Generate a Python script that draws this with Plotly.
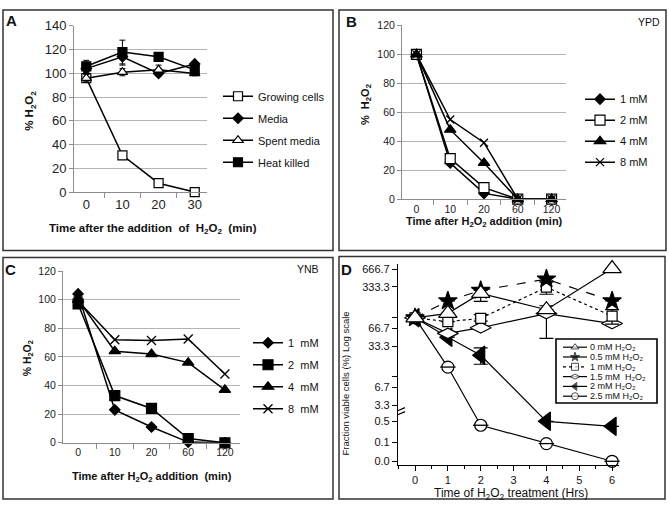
import math
import plotly.graph_objects as go

W, H = 669, 510
FONT = "Liberation Sans, Arial, sans-serif"

# ---------------- data ----------------
# Panel A
a_times = ["0", "10", "20", "30"]
a_growing = [96, 31, 7.5, 0]
a_media = [104, 114, 100, 108]
a_spent = [96, 101, 103, 100]
a_heat = [106, 118, 114, 103]
a_growing_err = [2, 2, 1, 0]
a_media_err = [3, 7, 2, 2]
a_spent_err = [3, 3, 4, 2]
a_heat_err = [5, 10, 2, 2]

# Panel B (YPD)
b_times = ["0", "10", "20", "60", "120"]
b_1mM = [100, 25, 4, 0, 0]
b_2mM = [100, 28, 8, 0, 0]
b_4mM = [100, 48, 25, 0, 0]
b_8mM = [100, 55, 39, 0, 0]

# Panel C (YNB)
c_times = ["0", "10", "20", "60", "120"]
c_1mM = [104, 23, 11, 0.5, 0]
c_2mM = [97, 33, 24, 3, 0]
c_4mM = [100, 64, 62, 56, 37]
c_8mM = [99, 72, 71.5, 72.5, 48]

# Panel D (fraction viable cells, %)
d_hours = [0, 1, 2, 4, 6]
d_0mM = [100, 119, 258, 137, 680]
d_05mM = [100, 193, 290, 451, 193]
d_1mM = [100, 86, 98, 329, 107]
d_15mM = [100, 54.5, 68, 118, 80]
d_2mM = [100, 47, 23.3, 0.5, 0.34]
d_25mM = [100, 14.7, 0.37, 0.09, 0.023]
# error bounds (low, high) or None
d_0mM_bounds = [None, None, (190, 310), None, None]
d_05mM_bounds = [None, None, None, (420, 490), None]
d_1mM_bounds = [None, None, (88, 113), (250, 400), (78, 137)]
d_15mM_bounds = [None, None, None, (45, 160), None]
d_2mM_bounds = [None, None, (16.4, 31), None, None]
d_yticks = [666.7, 333.3, 100, 66.7, 33.3, 10, 6.7, 3.3, 0.5, 0.1, 0.023]
d_yticklabels = ["666.7", "333.3", "", "66.7", "33.3", "", "6.7", "3.3", "0.5", "0.1", "0.0"]

# ---------------- broken log scale for panel D ----------------
LOW_ANCHOR = 0.25      # axis position of 0.5 in the lower segment
LOW_SCALE = 0.505      # compression of the lower segment
BREAK_POS = 0.398


def d_scale(v):
    if v >= 1:
        return math.log10(v)
    return LOW_ANCHOR + (math.log10(v) - math.log10(0.5)) * LOW_SCALE


def px(x):
    return x / W


def py(y):
    return 1 - y / H


fig = go.Figure()


def add_series(x, y, name, symbol, size, color, xa, ya, legend, group,
               dash="solid", width=1.5, err=None, mline=1.2):
    kw = {}
    if err is not None:
        kw["error_y"] = dict(type="data", array=err, visible=True, color="black",
                             thickness=1, width=3)
    fig.add_trace(go.Scatter(
        x=x, y=y, name=name, mode="lines+markers",
        line=dict(color="black", width=width, dash=dash),
        marker=dict(symbol=symbol, size=size, color=color,
                    line=dict(color="black", width=mline)),
        xaxis=xa, yaxis=ya, legend=legend, legendgroup=group,
        cliponaxis=False, **kw))


# Panel A
add_series(a_times, a_growing, "Growing cells", "square", 9, "white", "x", "y", "legend", "a1", err=a_growing_err)
add_series(a_times, a_media, "Media", "diamond", 8, "black", "x", "y", "legend", "a2", err=a_media_err)
add_series(a_times, a_spent, "Spent media", "triangle-up", 9, "white", "x", "y", "legend", "a3", err=a_spent_err)
add_series(a_times, a_heat, "Heat killed", "square", 9, "black", "x", "y", "legend", "a4", err=a_heat_err)

# Panel B
add_series(b_times, b_1mM, "1 mM", "diamond", 8, "black", "x2", "y2", "legend2", "b1")
add_series(b_times, b_2mM, "2 mM", "square", 10, "white", "x2", "y2", "legend2", "b2")
add_series(b_times, b_4mM, "4 mM", "triangle-up", 10, "black", "x2", "y2", "legend2", "b3")
add_series(b_times, b_8mM, "8 mM", "x-thin", 8, "black", "x2", "y2", "legend2", "b4", mline=1.3)

# Panel C
add_series(c_times, c_1mM, "1  mM", "diamond", 8, "black", "x3", "y3", "legend3", "c1")
add_series(c_times, c_2mM, "2  mM", "square", 10, "black", "x3", "y3", "legend3", "c2")
add_series(c_times, c_4mM, "4  mM", "triangle-up", 10, "black", "x3", "y3", "legend3", "c3")
add_series(c_times, c_8mM, "8  mM", "x-thin", 9, "black", "x3", "y3", "legend3", "c4", mline=1.3)


# Panel D
def d_trace(vals, bounds, symbol, size, color, dash):
    ys = [d_scale(v) for v in vals]
    kw = {}
    if bounds is not None:
        up = [(d_scale(b[1]) - d_scale(v)) if b else 0 for v, b in zip(vals, bounds)]
        dn = [(d_scale(v) - d_scale(b[0])) if b else 0 for v, b in zip(vals, bounds)]
        kw["error_y"] = dict(type="data", symmetric=False, array=up, arrayminus=dn,
                             visible=True, color="black", thickness=1.2, width=7)
    fig.add_trace(go.Scatter(
        x=d_hours, y=ys, mode="lines+markers", showlegend=False,
        line=dict(color="black", width=1.2, dash=dash),
        marker=dict(symbol=symbol, size=size, color=color, line=dict(color="black", width=1.2)),
        xaxis="x4", yaxis="y4", cliponaxis=False, **kw))


d_trace(d_2mM, d_2mM_bounds, "triangle-left", 16, "black", "solid")
d_trace(d_25mM, None, "circle", 12, "white", "solid")
fig.add_trace(go.Scatter(x=d_hours, y=[d_scale(v) for v in d_25mM], mode="markers", showlegend=False,
                         marker=dict(symbol="line-ew", size=11, color="black",
                                     line=dict(color="black", width=1.3)),
                         xaxis="x4", yaxis="y4", cliponaxis=False))
d_trace(d_15mM, d_15mM_bounds, "diamond-wide", 15, "white", "solid")
d_trace(d_1mM, d_1mM_bounds, "square", 10, "white", "dot")
d_trace(d_05mM, d_05mM_bounds, "star", 14, "black", "dash")
d_trace(d_0mM, d_0mM_bounds, "triangle-up", 16, "white", "solid")

# Panel D legend (drawn inside a helper axis)
d_leg_labels = ["0 mM H₂O₂", "0.5 mM H₂O₂", "1 mM H₂O₂",
                "1.5 mM  H₂O₂", "2 mM H₂O₂", "2.5 mM H₂O₂"]
d_leg_symbols = ["triangle-up", "star", "square", "diamond-wide", "triangle-left", "circle"]
d_leg_fill = ["white", "black", "white", "white", "black", "white"]
d_leg_dash = ["solid", "solid", "dot", "solid", "solid", "solid"]
annotations = []
for i, lab in enumerate(d_leg_labels):
    ry = 8.5 + 10.1 * i
    fig.add_trace(go.Scatter(
        x=[7, 19, 31], y=[ry, ry, ry], mode="lines+markers", showlegend=False,
        line=dict(color="black", width=1.2, dash=d_leg_dash[i]),
        marker=dict(symbol=d_leg_symbols[i], size=[0, 7, 0], color=d_leg_fill[i],
                    line=dict(color="black", width=1)),
        xaxis="x5", yaxis="y5", hoverinfo="skip", cliponaxis=False))
    annotations.append(dict(x=33, y=ry, xref="x5", yref="y5", text=lab, showarrow=False,
                            xanchor="left", yanchor="middle", borderpad=0,
                            font=dict(size=9, family=FONT, color="#111")))

# ---------------- axes ----------------
grid = "#b4b4b4"
axc = "#8c8c8c"


def cat_x(domain, anchor, fs):
    return dict(domain=domain, anchor=anchor, type="category", tickson="boundaries",
                ticks="outside", ticklen=5, tickcolor=axc, showline=True, linecolor=axc,
                linewidth=1, showgrid=False, zeroline=False,
                tickfont=dict(size=fs, family=FONT, color="#222"), fixedrange=True)


def val_y(domain, anchor, rng, fs):
    return dict(domain=domain, anchor=anchor, range=rng, dtick=20, showgrid=True,
                gridcolor=grid, gridwidth=1, showline=True, linecolor=axc, linewidth=1,
                ticks="outside", ticklen=4, tickcolor=axc, zeroline=False,
                tickfont=dict(size=fs, family=FONT, color="#222"))


layout = dict(
    width=W, height=H, margin=dict(l=0, r=0, t=0, b=0),
    paper_bgcolor="white", plot_bgcolor="white",
    font=dict(family=FONT, color="#111"),
    xaxis=cat_x([px(74), px(207)], "y", 13),
    yaxis=val_y([py(190.7), py(19.5)], "x", [0, 140], 13),
    xaxis2=cat_x([px(402), px(566)], "y2", 10.5),
    yaxis2=val_y([py(198), py(19)], "x2", [0, 120], 10.5),
    xaxis3=cat_x([px(63), px(240)], "y3", 10.5),
    yaxis3=val_y([py(449), py(272)], "x3", [0, 120], 10.5),
    xaxis4=dict(domain=[px(398), px(619)], anchor="y4", range=[-0.518, 6.21],
                tickvals=d_hours + [3, 5], ticks="outside", ticklen=5, tickcolor="black",
                showline=True, linecolor="black", linewidth=1.2, showgrid=False, zeroline=False,
                minor=dict(dtick=0.5, ticks="outside", ticklen=3, tickcolor="black"),
                tickfont=dict(size=11, family=FONT, color="#111")),
    yaxis4=dict(domain=[py(472), py(265)], anchor="x4", range=[-0.49, 2.906],
                tickvals=[d_scale(v) for v in d_yticks], ticktext=d_yticklabels,
                ticks="outside", ticklen=5, tickcolor="black", showline=True,
                linecolor="black", linewidth=1.2, showgrid=False, zeroline=False,
                tickfont=dict(size=11, family=FONT, color="#111")),
    xaxis5=dict(domain=[px(556), px(657)], anchor="y5", range=[0, 101], visible=False),
    yaxis5=dict(domain=[py(408), py(342)], anchor="x5", range=[66, 0], visible=False),
    legend=dict(x=px(218), y=py(77), xanchor="left", yanchor="top", tracegroupgap=3,
                font=dict(size=11, family=FONT, color="#111"), bgcolor="rgba(0,0,0,0)",
                itemwidth=30),
    legend2=dict(x=px(580), y=py(80), xanchor="left", yanchor="top", tracegroupgap=2,
                 font=dict(size=11, family=FONT, color="#111"), bgcolor="rgba(0,0,0,0)",
                 itemwidth=30),
    legend3=dict(x=px(248), y=py(331), xanchor="left", yanchor="top", tracegroupgap=3,
                 font=dict(size=11, family=FONT, color="#111"), bgcolor="rgba(0,0,0,0)",
                 itemwidth=30),
    showlegend=True,
)

# panel borders
shapes = []
for (x0, y0, x1, y1) in [(3, 3, 333, 251), (339, 3, 666, 251), (3, 258, 333, 507), (339, 257, 665, 507)]:
    shapes.append(dict(type="rect", xref="paper", yref="paper", x0=px(x0), x1=px(x1),
                       y0=py(y1), y1=py(y0), line=dict(color="#333", width=1.5)))
# D legend box
shapes.append(dict(type="rect", xref="x5 domain", yref="y5 domain", x0=0, x1=1, y0=0, y1=1,
                   line=dict(color="black", width=1.6)))
# D axis break
shapes.append(dict(type="rect", xref="x4", yref="y4", xsizemode="pixel", ysizemode="pixel",
                   xanchor=-0.518, yanchor=BREAK_POS, x0=-2, x1=2, y0=-2, y1=2,
                   fillcolor="white", line=dict(width=0)))
for off in (-2, 2):
    shapes.append(dict(type="line", xref="x4", yref="y4", xsizemode="pixel", ysizemode="pixel",
                       xanchor=-0.518, yanchor=BREAK_POS, x0=-7, x1=7, y0=off - 3, y1=off + 3,
                       line=dict(color="black", width=1.2)))
layout["shapes"] = shapes


def ann(x, y, text, size, bold=False, angle=0, xanchor="center"):
    annotations.append(dict(x=px(x), y=py(y), xref="paper", yref="paper", text=text,
                            showarrow=False, xanchor=xanchor, yanchor="middle", textangle=angle,
                            font=dict(size=size, family=FONT, color="#111"),
                            ))


H2O2 = "H<sub>2</sub>O<sub>2</sub>"
ann(11, 14, "<b>A</b>", 15)
ann(351, 15, "<b>B</b>", 15)
ann(10, 270, "<b>C</b>", 15)
ann(346, 270, "<b>D</b>", 15)
ann(649, 15, "YPD", 10.5)
ann(308, 270, "YNB", 10.5)
ann(153, 229, "<b>Time after the addition  of  " + H2O2 + "  (min)</b>", 11.5)
ann(30, 107, "<b>% " + H2O2 + "</b>", 11.5, angle=-90)
ann(484, 221, "<b>Time after " + H2O2 + " addition (min)</b>", 11)
ann(366, 101, "<b>%  " + H2O2 + "</b>", 11, angle=-90)
ann(152, 484, "<b>Time after " + H2O2 + " addition  (min)</b>", 11)
ann(28, 362, "<b>% " + H2O2 + "</b>", 10.5, angle=-90)
ann(511, 502, "Time of " + H2O2 + " treatment (Hrs)", 12)
ann(346, 388, "Fraction viable cells (%) Log scale", 9.5, angle=-90)
layout["annotations"] = annotations

fig.update_layout(**layout)
fig.write_html("out.html", config={"displayModeBar": False},
               post_script="document.body.style.margin='0';")
